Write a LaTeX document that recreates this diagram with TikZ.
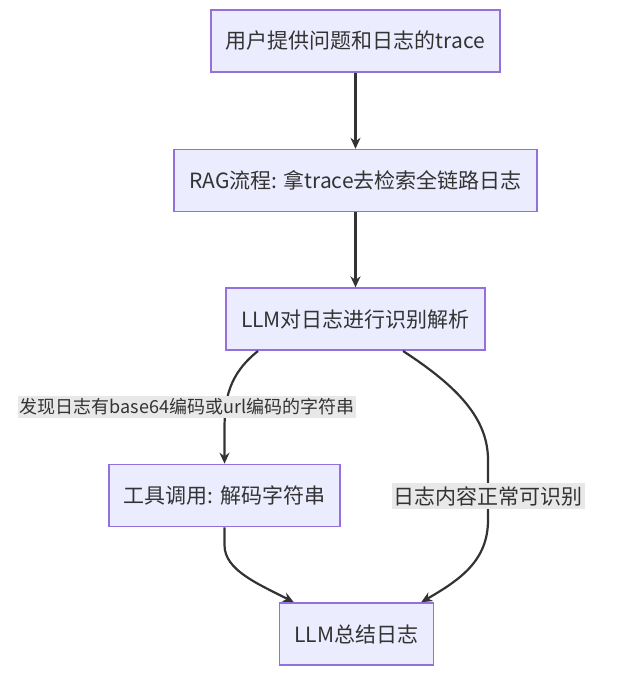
\documentclass[tikz,border=0pt]{standalone}
\usepackage{fontspec}
\setmainfont{Noto Sans CJK SC}
\usepackage{tikz}
\usetikzlibrary{arrows.meta,positioning,calc}
\definecolor{FlowFill}{HTML}{ECECFF}
\definecolor{FlowLine}{HTML}{9370DB}
\definecolor{FlowInk}{HTML}{333333}
\definecolor{FlowLabel}{HTML}{E8E8E8}

\begin{document}
\begin{tikzpicture}[x=1pt,y=1pt,every node/.style={font=\fontsize{21}{25}\selectfont,text=FlowInk}]
    \tikzset{stepbox/.style={draw=FlowLine,line width=1.6pt,fill=FlowFill,
      minimum height=62pt,inner xsep=15pt,align=center},
      flow/.style={-{Stealth[length=11pt,width=10pt]},line width=2.2pt,FlowInk},
      tag/.style={fill=FlowLabel,inner xsep=2pt,inner ysep=3pt}}
    \useasboundingbox (0,0) rectangle (627,675);
    \node[stepbox] (ask) at (355.5,634) {用户提供问题和日志的trace};
    \node[stepbox,below=76pt of ask] (rag) {RAG流程: 拿trace去检索全链路日志};
    \node[stepbox,below=75pt of rag] (llm) {LLM对日志进行识别解析};
    \node[stepbox] (tool) at (224.5,179.5) {工具调用: 解码字符串};
    \node[stepbox] (sum) at (356.5,41) {LLM总结日志};
    \foreach \x/\y in {ask/rag,rag/llm}{\draw[flow] (\x) -- (\y);}
    \draw[flow] ([xshift=-97.5pt]llm.south) .. controls +(-30,-24) and +(0,30) .. (224.5,245) -- (tool.north);
    \draw[flow] ([xshift=47.5pt]llm.south) .. controls +(57,-37) and +(0,40) .. (488,215) -- (488,155)
      .. controls +(0,-40) and +(40,23) .. ([xshift=-13pt]sum.north east);
    \draw[flow] (tool.south) -- ++(0,-18) .. controls +(0,-25) and +(-35,18) .. ([xshift=15pt]sum.north west);
    \node[tag,font=\fontsize{18}{22}\selectfont] (enc) at (187,268) {发现日志有base64编码或url编码的字符串};
    \node[tag] (ok) at (488,179) {日志内容正常可识别};
  \end{tikzpicture}
\end{document}
